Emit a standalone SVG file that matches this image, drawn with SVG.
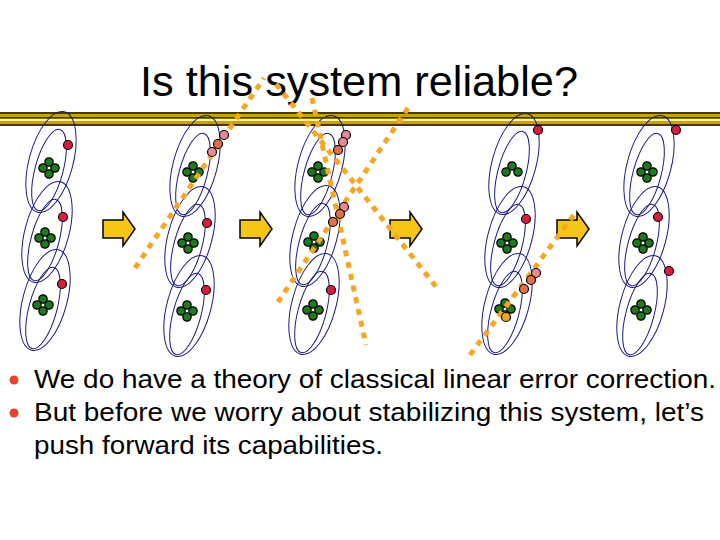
<svg xmlns="http://www.w3.org/2000/svg" xmlns:xlink="http://www.w3.org/1999/xlink" width="720" height="540" viewBox="0 0 720 540">
<style>
.t{font-family:"Liberation Sans",Arial,sans-serif;fill:#000}
.e{fill:none;stroke:#1a1a80;stroke-width:1}
.g{fill:#1e7a1e;stroke:#000;stroke-width:1.2}
.r{fill:#d81e3c;stroke:#000;stroke-width:1.2}
.p{fill:#e88a96;stroke:#000;stroke-width:1.2}
.o{fill:#e0704a;stroke:#000;stroke-width:1.2}
.d{stroke:#f5a623;stroke-width:5;stroke-dasharray:6 6;fill:none}
.a{fill:#f5c518;stroke:#000;stroke-width:1.5}
</style>
<defs>
<g id="u">
<ellipse class="e" cx="2" cy="-6" rx="22" ry="52" transform="rotate(15 2 -6)"/>
<ellipse class="e" cx="0" cy="2" rx="14" ry="42" transform="rotate(15 0 2)"/>
</g>
<g id="c">
<circle class="g" cx="0" cy="-6" r="4.2"/><circle class="g" cx="-6" cy="0" r="4.2"/>
<circle class="g" cx="6" cy="0" r="4.2"/><circle class="g" cx="0" cy="6" r="4.2"/>
</g>
<g id="c3">
<circle class="g" cx="0" cy="-6" r="4.2"/><circle class="g" cx="-6" cy="0" r="4.2"/>
<circle class="g" cx="6" cy="0" r="4.2"/>
</g>
<path id="ar" class="a" d="M0,-9 H20 V-17 L32,0 L20,17 V9 H0 Z"/>
</defs>
<text class="t" x="140" y="96" font-size="42" textLength="438" lengthAdjust="spacingAndGlyphs">Is this system reliable?</text>
<g id="bar">
<rect x="0" y="112" width="720" height="14" fill="#c8a400"/>
<rect x="0" y="112" width="720" height="2" fill="#4a3a00"/>
<rect x="0" y="117" width="720" height="1.5" fill="#4a3a00"/>
<rect x="0" y="119" width="720" height="2" fill="#fff2a0"/>
<rect x="0" y="124" width="720" height="2" fill="#4a3a00"/>
</g>
<g id="col1">
<use xlink:href="#u" x="49" y="168"/><use xlink:href="#u" x="45" y="238"/><use xlink:href="#u" x="43" y="306"/>
<use xlink:href="#c" x="49" y="168"/><use xlink:href="#c" x="45" y="238"/><use xlink:href="#c" x="43" y="305"/>
<circle class="r" cx="68" cy="145" r="4.5"/><circle class="r" cx="63" cy="217" r="4.5"/><circle class="r" cx="62" cy="284" r="4.5"/>
</g>
<g id="col2">
<use xlink:href="#u" x="193" y="172"/><use xlink:href="#u" x="188" y="243"/><use xlink:href="#u" x="187" y="312"/>
<use xlink:href="#c" x="193" y="172"/><use xlink:href="#c" x="188" y="243"/><use xlink:href="#c" x="187" y="311"/>
<circle class="r" cx="207" cy="223" r="4.5"/><circle class="r" cx="206" cy="290" r="4.5"/>
</g>
<g id="col3">
<use xlink:href="#u" x="318" y="172"/><use xlink:href="#u" x="313" y="242"/><use xlink:href="#u" x="312" y="310"/>
<use xlink:href="#c" x="318" y="172"/><use xlink:href="#c" x="314" y="242"/><use xlink:href="#c" x="313" y="310"/>
<circle class="r" cx="331" cy="290" r="4.5"/>
</g>
<g id="col4">
<use xlink:href="#u" x="512" y="170"/><use xlink:href="#u" x="508" y="243"/><use xlink:href="#u" x="505" y="310"/>
<use xlink:href="#c3" x="512" y="172"/><use xlink:href="#c" x="507" y="243"/><use xlink:href="#c" x="505" y="309"/>
<circle class="r" cx="538" cy="130" r="4.5"/><circle class="r" cx="526" cy="219" r="4.5"/>
</g>
<g id="col5">
<use xlink:href="#u" x="647" y="172"/><use xlink:href="#u" x="642" y="243"/><use xlink:href="#u" x="640" y="312"/>
<use xlink:href="#c" x="647" y="172"/><use xlink:href="#c" x="643" y="243"/><use xlink:href="#c" x="641" y="310"/>
<circle class="r" cx="676" cy="130" r="4.5"/><circle class="r" cx="658" cy="217" r="4.5"/><circle class="r" cx="669" cy="271" r="4.5"/>
</g>
<g id="arrows">
<use xlink:href="#ar" x="103" y="229"/><use xlink:href="#ar" x="240" y="229"/>
<use xlink:href="#ar" x="390" y="229"/><use xlink:href="#ar" x="557" y="229"/>
</g>
<g id="connectors">
<path class="d" d="M135,268 L264,78"/>
<path class="d" d="M276,84 L437,288"/>
<path class="d" d="M312,98 L366,345"/>
<path class="d" d="M408,108 L278,302"/>
<path class="d" d="M470,355 L576,212"/>
</g>
<g id="errs">
<circle class="p" cx="224" cy="135" r="4.5"/><circle class="o" cx="218" cy="144" r="4.5"/><circle class="p" cx="212" cy="152" r="4.5"/>
<circle class="p" cx="346" cy="135" r="4.5"/><circle class="p" cx="343" cy="142" r="4.5"/><circle class="o" cx="338" cy="150" r="4.5"/>
<circle class="p" cx="344" cy="207" r="4.5"/><circle class="o" cx="340" cy="214" r="4.5"/><circle class="o" cx="333" cy="222" r="4.5"/>
<circle class="p" cx="536" cy="273" r="4.5"/><circle class="o" cx="531" cy="280" r="4.5"/><circle class="o" cx="524" cy="289" r="4.5"/>
<circle cx="506" cy="317" r="4.5" fill="#f5a623" stroke="#000" stroke-width="1.2"/>
</g>
<g id="bullets">
<circle cx="14" cy="380" r="4.5" fill="#e8432a"/>
<circle cx="14" cy="413" r="4.5" fill="#e8432a"/>
<text class="t" x="34" y="388" font-size="25" textLength="682" lengthAdjust="spacingAndGlyphs">We do have a theory of classical linear error correction.</text>
<text class="t" x="34" y="421" font-size="25" textLength="670" lengthAdjust="spacingAndGlyphs">But before we worry about stabilizing this system, let’s</text>
<text class="t" x="34" y="454" font-size="25" textLength="349" lengthAdjust="spacingAndGlyphs">push forward its capabilities.</text>
</g>
</svg>
